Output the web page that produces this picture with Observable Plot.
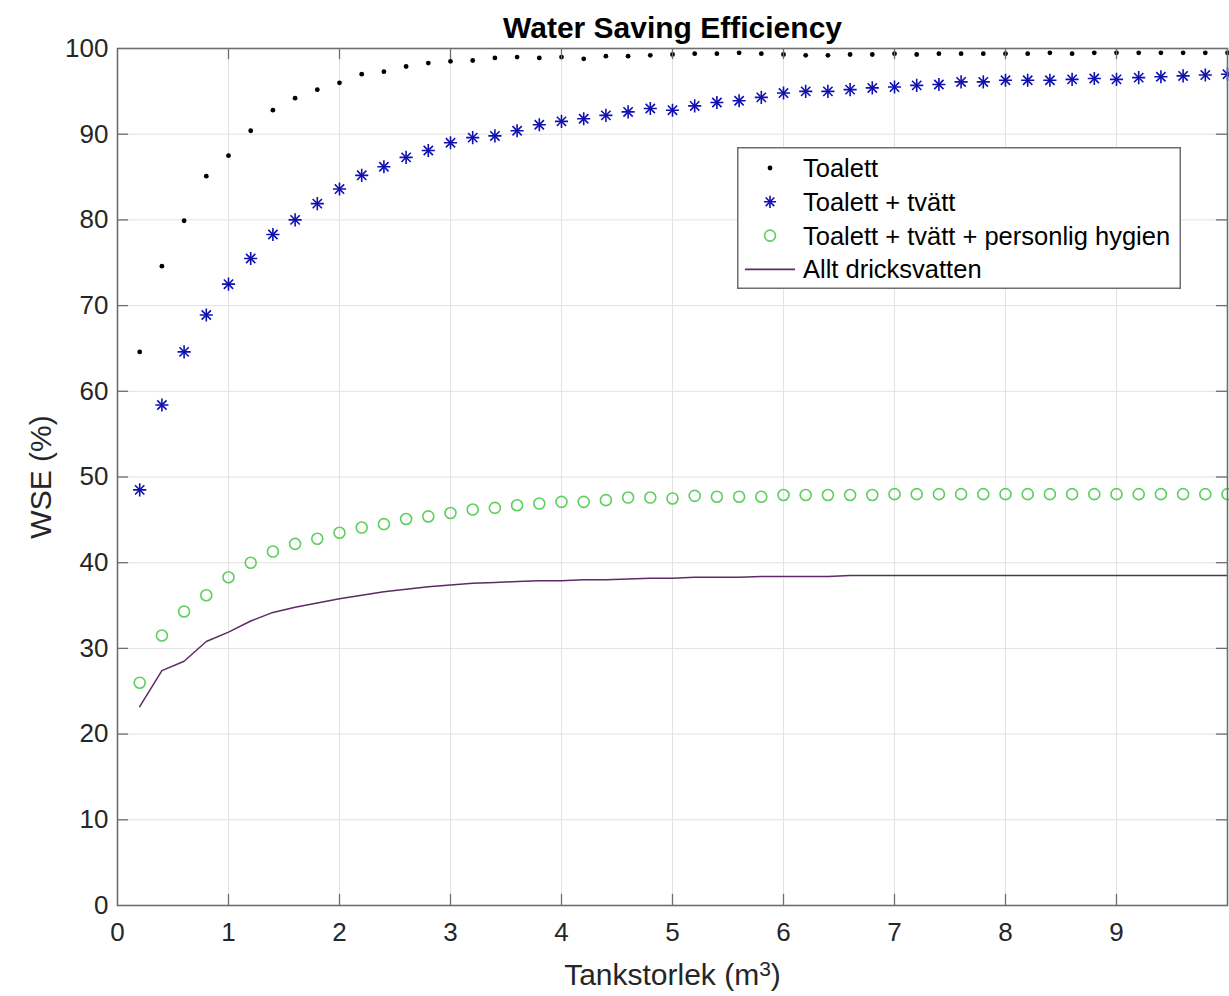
<!DOCTYPE html>
<html><head><meta charset="utf-8">
<script src="https://cdn.jsdelivr.net/npm/d3@7"></script>
<script src="https://cdn.jsdelivr.net/npm/@observablehq/plot@0.6"></script>
<style>
body{margin:0;background:#fff;font-family:"Liberation Sans",Arial,Helvetica,sans-serif;}
#wrap{position:relative;width:1229px;height:996px;overflow:hidden;}
#legend{position:absolute;left:737px;top:147px;}
</style></head><body><div id="wrap"></div>
<script>
// Tank size (m3)
const tank = [0.2,0.4,0.6,0.8,1.0,1.2,1.4,1.6,1.8,2.0,2.2,2.4,2.6,2.8,3.0,3.2,3.4,3.6,3.8,4.0,4.2,4.4,4.6,4.8,5.0,5.2,5.4,5.6,5.8,6.0,6.2,6.4,6.6,6.8,7.0,7.2,7.4,7.6,7.8,8.0,8.2,8.4,8.6,8.8,9.0,9.2,9.4,9.6,9.8,10.0];
// Toalett
const toalett = [64.6,74.6,79.9,85.1,87.5,90.4,92.8,94.2,95.2,96.0,97.0,97.3,97.9,98.3,98.5,98.6,98.9,99.0,98.9,99.0,98.8,99.1,99.1,99.2,99.3,99.4,99.4,99.5,99.4,99.3,99.2,99.2,99.3,99.3,99.4,99.3,99.4,99.4,99.4,99.4,99.4,99.5,99.4,99.5,99.5,99.5,99.5,99.5,99.5,99.5];
// Toalett + tvätt
const tvatt = [48.5,58.4,64.6,68.9,72.5,75.5,78.3,80.0,81.9,83.6,85.2,86.2,87.3,88.1,89.0,89.6,89.8,90.4,91.1,91.5,91.8,92.2,92.6,93.0,92.8,93.3,93.7,93.9,94.3,94.8,95.0,95.0,95.2,95.4,95.5,95.7,95.8,96.1,96.1,96.3,96.3,96.3,96.4,96.5,96.4,96.6,96.7,96.8,96.9,97.0];
// Toalett + tvätt + personlig hygien
const hygien = [26.0,31.5,34.3,36.2,38.3,40.0,41.3,42.2,42.8,43.5,44.1,44.5,45.1,45.4,45.8,46.2,46.4,46.7,46.9,47.1,47.1,47.3,47.6,47.6,47.5,47.8,47.7,47.7,47.7,47.9,47.9,47.9,47.9,47.9,48.0,48.0,48.0,48.0,48.0,48.0,48.0,48.0,48.0,48.0,48.0,48.0,48.0,48.0,48.0,48.0];
// Allt dricksvatten
const dricks = [23.2,27.4,28.5,30.8,31.9,33.2,34.2,34.8,35.3,35.8,36.2,36.6,36.9,37.2,37.4,37.6,37.7,37.8,37.9,37.9,38.0,38.0,38.1,38.2,38.2,38.3,38.3,38.3,38.4,38.4,38.4,38.4,38.5,38.5,38.5,38.5,38.5,38.5,38.5,38.5,38.5,38.5,38.5,38.5,38.5,38.5,38.5,38.5,38.5,38.5];

const xTicks = [0,1,2,3,4,5,6,7,8,9];
const xGrid = [1,2,3,4,5,6,7,8,9];
const yTicks = [0,10,20,30,40,50,60,70,80,90,100];
const yGrid = [10,20,30,40,50,60,70,80,90];
const seriesNames = ["Toalett","Toalett + tvätt","Toalett + tvätt + personlig hygien","Allt dricksvatten"];
const titleText = "Water Saving Efficiency";
const xLabelMain = "Tankstorlek (m";
const xLabelSup = "3";
const xLabelEnd = ")";
const yLabel = "WSE (%)";

const data = tank.map((t,i)=>({tank:t, toalett:toalett[i], tvatt:tvatt[i], hygien:hygien[i], dricks:dricks[i]}));

const axisColor = "#6e6e6e";
const gridColor = "#e2e2e2";
const cBlack = "#000000", cBlue = "#1010b0", cGreen = "#5ccf5c", cPurple = "#5e2a66";
const tickLenY = 1.3, tickLenX = 0.1;
const fontFam = '"Liberation Sans", Arial, Helvetica, sans-serif';

const chart = Plot.plot({
  width: 1229, height: 996,
  marginLeft: 117, marginRight: 2, marginTop: 48, marginBottom: 91,
  style: {fontFamily: fontFam, background: "#fff", overflow: "visible"},
  x: {domain: [0, 10]},
  y: {domain: [0, 100]},
  marks: [
    Plot.ruleX(xGrid, {x: d => d, stroke: gridColor, strokeWidth: 1}),
    Plot.ruleY(yGrid, {y: d => d, stroke: gridColor, strokeWidth: 1}),
    Plot.line(data, {x: "tank", y: "dricks", stroke: cPurple, strokeWidth: 1.5}),
    Plot.dot(data, {x: "tank", y: "hygien", r: 5.5, stroke: cGreen, strokeWidth: 1.6, fill: "none"}),
    Plot.dot(data, {x: "tank", y: "tvatt", symbol: "plus", r: 4.3, stroke: cBlue, strokeWidth: 1.6}),
    Plot.dot(data, {x: "tank", y: "tvatt", symbol: "times", r: 4.3, stroke: cBlue, strokeWidth: 1.6}),
    Plot.dot(data, {x: "tank", y: "toalett", r: 2.4, fill: cBlack, stroke: "none"}),
    // inward ticks (MATLAB box style)
    Plot.ruleX(xGrid, {x: d => d, y1: 0, y2: tickLenY, stroke: axisColor, strokeWidth: 1.3}),
    Plot.ruleX(xGrid, {x: d => d, y1: 100 - tickLenY, y2: 100, stroke: axisColor, strokeWidth: 1.3}),
    Plot.ruleY(yGrid, {y: d => d, x1: 0, x2: tickLenX, stroke: axisColor, strokeWidth: 1.3}),
    Plot.ruleY(yGrid, {y: d => d, x1: 10 - tickLenX, x2: 10, stroke: axisColor, strokeWidth: 1.3}),
    Plot.frame({stroke: axisColor, strokeWidth: 1.6}),
    Plot.axisX(xTicks, {tickSize: 0, tickPadding: 17, fontSize: 26, fill: "#262626", label: null}),
    Plot.axisY(yTicks, {tickSize: 0, tickPadding: 9, fontSize: 26, fill: "#262626", label: null}),
    Plot.text([titleText], {frameAnchor: "top", lineAnchor: "middle", dy: -20, fontSize: 30, fontWeight: "bold", fill: "#000"}),
    Plot.text([xLabelMain], {frameAnchor: "bottom", lineAnchor: "middle", dy: 70, fontSize: 30, fill: "#262626", className: "xlab"}),
    Plot.text([yLabel], {frameAnchor: "left", textAnchor: "middle", lineAnchor: "middle", dx: -76, rotate: -90, fontSize: 30, fill: "#262626"})
  ]
});
const wrap = document.getElementById("wrap");
wrap.appendChild(chart);

// superscript in x label
d3.select(chart).selectAll("g.xlab text").each(function(){
  const t = d3.select(this);
  t.append("tspan").attr("dy","-0.45em").attr("font-size","0.7em").text(xLabelSup);
  t.append("tspan").attr("dy","0.315em").text(xLabelEnd);
});

// Legend (MATLAB-style box inside the axes)
const lw = 444, lh = 142;
const leg = d3.create("svg").attr("id","legend").attr("width", lw).attr("height", lh)
  .style("font-family", fontFam);
leg.append("rect").attr("x",0.75).attr("y",0.75).attr("width",lw-1.5).attr("height",lh-1.5)
  .attr("fill","#fff").attr("stroke",axisColor).attr("stroke-width",1.5);
const rowY = i => 21 + 33.8*i;
const symX = 33, textX = 66;
seriesNames.forEach((name,i)=>{
  const g = leg.append("g").attr("transform",`translate(${symX},${rowY(i)})`);
  if (i===0) g.append("circle").attr("r",2.4).attr("fill",cBlack);
  if (i===1) {
    g.append("path").attr("d", d3.symbol(d3.symbolPlus, 4*4*Math.PI)()).attr("fill","none").attr("stroke",cBlue).attr("stroke-width",1.6);
    g.append("path").attr("d", d3.symbol(d3.symbolTimes, 4*4*Math.PI)()).attr("fill","none").attr("stroke",cBlue).attr("stroke-width",1.6);
  }
  if (i===2) g.append("circle").attr("r",5.5).attr("fill","none").attr("stroke",cGreen).attr("stroke-width",1.6);
  if (i===3) g.append("line").attr("x1",-25).attr("x2",25).attr("stroke",cPurple).attr("stroke-width",1.6);
  leg.append("text").attr("x",textX).attr("y",rowY(i)).attr("dy","0.35em").attr("font-size",25.5).attr("fill","#000").text(name);
});
wrap.appendChild(leg.node());
</script>
</body></html>
